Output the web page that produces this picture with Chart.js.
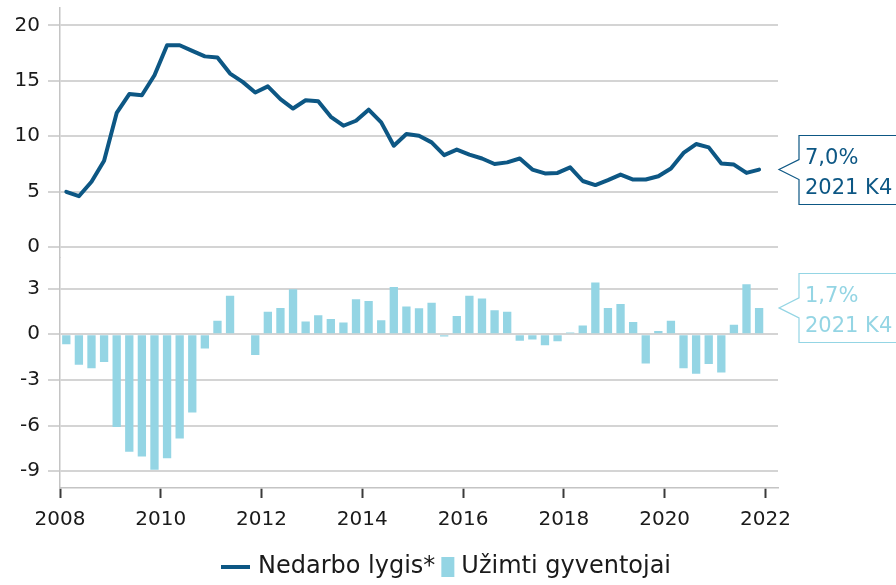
<!DOCTYPE html>
<html>
<head>
<meta charset="utf-8">
<script src="https://cdn.jsdelivr.net/npm/chart.js@4/dist/chart.umd.min.js"></script>
<style>
  html, body { margin: 0; padding: 0; background: #ffffff; overflow: hidden; }
  #wrap { width: 896px; height: 585px; position: relative; }
</style>
</head>
<body>
<div id="wrap"><canvas id="c" width="896" height="585"></canvas></div>
<script>
// ---- Data ----
const years = [2008, 2009, 2010, 2011, 2012, 2013, 2014, 2015, 2016, 2017, 2018, 2019, 2020, 2021];
const quarterNames = ['K1', 'K2', 'K3', 'K4'];
const categories = [];
years.forEach(y => quarterNames.forEach(q => categories.push(y + ' ' + q)));

// Nedarbo lygis (unemployment rate, %)
const unemployment = [
  5.0, 4.6, 5.9, 7.8,
  12.1, 13.8, 13.7, 15.5,
  18.2, 18.2, 17.7, 17.2,
  17.1, 15.65, 14.9, 13.95,
  14.5, 13.35, 12.5, 13.25,
  13.15, 11.75, 10.95, 11.4,
  12.4, 11.25, 9.15, 10.2,
  10.05, 9.45, 8.3, 8.8,
  8.35, 8.0, 7.5, 7.65,
  8.0, 7.0, 6.65, 6.7,
  7.2, 5.97, 5.6, 6.05,
  6.55, 6.1, 6.1, 6.4,
  7.1, 8.5, 9.3, 9.0,
  7.55, 7.45, 6.7, 7.0
];
// Užimti gyventojai (employed persons, annual change %)
const employed = [
  -0.66, -2.0, -2.23, -1.82,
  -6.1, -7.72, -8.03, -8.9,
  -8.14, -6.85, -5.14, -0.94,
  0.88, 2.52, -0.07, -1.36,
  1.47, 1.73, 2.95, 0.83,
  1.25, 1.0, 0.77, 2.3,
  2.19, 0.92, 3.1, 1.82,
  1.71, 2.06, -0.15, 1.2,
  2.52, 2.34, 1.58, 1.47,
  -0.42, -0.35, -0.72, -0.46,
  0.11, 0.57, 3.39, 1.73,
  1.99, 0.81, -1.93, 0.22,
  0.88, -2.23, -2.6, -1.95,
  -2.52, 0.63, 3.28, 1.73
];
const xTickYears = [2008, 2010, 2012, 2014, 2016, 2018, 2020, 2022];
const topTicks = [0, 2.5, 5, 7.5, 10, 12.5, 15, 17.5, 20];
const bottomTicks = [-9, -8, -7, -6, -5, -4, -3, -2, -1, 0, 1, 2, 3, 4];
const seriesNames = ['Nedarbo lygis*', 'Užimti gyventojai'];

// ---- Styles ----
const LINE_COLOR = '#0d5784';
const BAR_COLOR = '#94d5e4';
const GRID_COLOR = '#d4d4d4';
const TEXT_COLOR = '#1a1a1a';
const FONT = "'DejaVu Sans', 'Verdana', sans-serif";

function quarterToX(label) {
  const [y, q] = label.split(' ');
  return Number(y) + (Number(q.slice(1)) - 0.5) / 4;
}
const linePoints = categories.map((c, i) => ({ x: quarterToX(c), y: unemployment[i] }));
const barPoints = categories.map((c, i) => ({ x: quarterToX(c), y: employed[i] }));

const fmt = v => v.toFixed(1).replace('.', ',') + '%';

const overlayPlugin = {
  id: 'overlay',
  afterDraw(chart) {
    const ctx = chart.ctx;
    const area = chart.chartArea;
    const callouts = [
      { scale: chart.scales.y, pts: linePoints, color: LINE_COLOR },
      { scale: chart.scales.y2, pts: barPoints, color: BAR_COLOR }
    ];
    callouts.forEach(c => {
      const last = c.pts[c.pts.length - 1];
      const tipX = area.right + 1;
      const tipY = c.scale.getPixelForValue(last.y);
      const boxL = tipX + 20;
      const boxT = Math.round(tipY - 35) + 0.5;
      const boxB = Math.round(tipY + 34) + 0.5;
      const farR = chart.width + 40;
      ctx.save();
      ctx.strokeStyle = c.color;
      ctx.lineWidth = 1.2;
      ctx.fillStyle = '#ffffff';
      ctx.beginPath();
      ctx.moveTo(farR, boxT);
      ctx.lineTo(boxL, boxT);
      ctx.lineTo(boxL, tipY - 10);
      ctx.lineTo(tipX, tipY);
      ctx.lineTo(boxL, tipY + 10);
      ctx.lineTo(boxL, boxB);
      ctx.lineTo(farR, boxB);
      ctx.fill();
      ctx.stroke();
      ctx.fillStyle = c.color;
      ctx.font = '21px ' + FONT;
      ctx.textAlign = 'left';
      ctx.textBaseline = 'alphabetic';
      ctx.fillText(fmt(last.y), boxL + 6, tipY - 6);
      ctx.fillText(categories[categories.length - 1], boxL + 6, tipY + 24);
      ctx.restore();
    });
    // legend
    ctx.save();
    const ly = 567;
    ctx.font = '24px ' + FONT;
    ctx.textBaseline = 'middle';
    ctx.textAlign = 'left';
    ctx.strokeStyle = LINE_COLOR;
    ctx.lineWidth = 4;
    ctx.beginPath();
    ctx.moveTo(221, ly);
    ctx.lineTo(250, ly);
    ctx.stroke();
    ctx.fillStyle = TEXT_COLOR;
    ctx.fillText(seriesNames[0], 258, ly);
    const w0 = ctx.measureText(seriesNames[0]).width;
    const rx = 258 + w0 + 6;
    ctx.fillStyle = BAR_COLOR;
    ctx.fillRect(rx, ly - 10, 13, 20);
    ctx.fillStyle = TEXT_COLOR;
    ctx.fillText(seriesNames[1], rx + 20, ly);
    ctx.restore();
  }
};

Chart.defaults.font.family = FONT;
Chart.defaults.color = TEXT_COLOR;

const noPad = axis => { axis.paddingTop = 0; axis.paddingBottom = 0; axis.paddingLeft = 0; axis.paddingRight = 0; };

new Chart(document.getElementById('c'), {
  data: {
    datasets: [
      {
        type: 'line',
        label: seriesNames[0],
        data: linePoints,
        yAxisID: 'y',
        borderColor: LINE_COLOR,
        borderWidth: 4,
        pointRadius: 0,
        tension: 0,
        borderJoinStyle: 'round',
        borderCapStyle: 'round'
      },
      {
        type: 'bar',
        label: seriesNames[1],
        data: barPoints,
        yAxisID: 'y2',
        backgroundColor: BAR_COLOR,
        borderWidth: 0,
        barPercentage: 0.66,
        categoryPercentage: 1
      }
    ]
  },
  options: {
    responsive: false,
    animation: false,
    devicePixelRatio: 1,
    layout: { padding: { top: 8, right: 118, left: 0, bottom: 0 } },
    plugins: { legend: { display: false }, tooltip: { enabled: false } },
    scales: {
      x: {
        type: 'linear',
        position: 'bottom',
        offset: false,
        min: 2008,
        max: 2022.25,
        afterBuildTicks: axis => { axis.ticks = xTickYears.map(v => ({ value: v })); },
        afterFit: axis => { axis.height = 97; noPad(axis); },
        ticks: { font: { size: 20 }, color: TEXT_COLOR, padding: 10, maxRotation: 0, autoSkip: false, callback: v => String(v) },
        grid: { offset: false, drawOnChartArea: false, tickLength: 10, tickColor: '#3a3a3a', tickWidth: 2 },
        border: { display: true, color: '#c4c4c4', width: 1.5 }
      },
      y: {
        type: 'linear',
        position: 'left',
        stack: 'panels',
        stackWeight: 249.4,
        weight: 2,
        min: -0.91,
        max: 21.56,
        afterBuildTicks: axis => { axis.ticks = topTicks.map(v => ({ value: v })); },
        afterFit: axis => { axis.width = 60; noPad(axis); },
        ticks: { font: { size: 20 }, color: TEXT_COLOR, padding: 8, callback: v => (v % 5 === 0 ? String(v) : '') },
        grid: { color: GRID_COLOR, lineWidth: 2, tickLength: 12 },
        border: { display: true, color: '#c4c4c4', width: 1.5 }
      },
      y2: {
        type: 'linear',
        position: 'left',
        stack: 'panels',
        stackWeight: 230.7,
        weight: 1,
        min: -10.1,
        max: 5.05,
        afterBuildTicks: axis => { axis.ticks = bottomTicks.map(v => ({ value: v })); },
        afterFit: axis => { axis.width = 60; noPad(axis); },
        ticks: { font: { size: 20 }, color: TEXT_COLOR, padding: 8, callback: v => (v % 3 === 0 ? String(v) : '') },
        grid: { color: GRID_COLOR, lineWidth: 2, tickLength: 12 },
        border: { display: true, color: '#c4c4c4', width: 1.5 }
      }
    }
  },
  plugins: [overlayPlugin]
});
</script>
</body>
</html>
